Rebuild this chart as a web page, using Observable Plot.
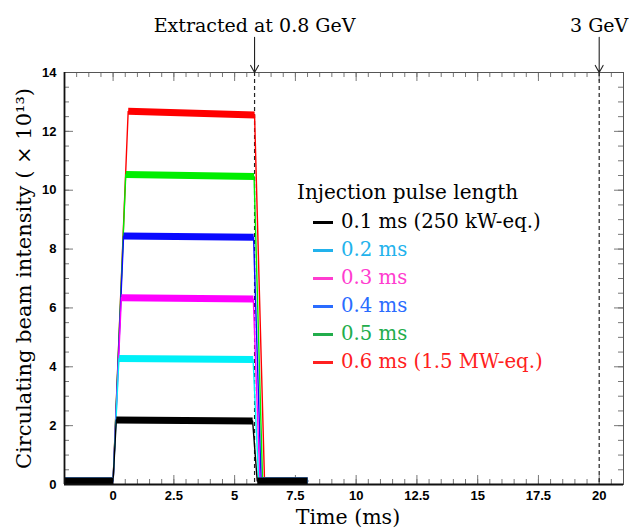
<!DOCTYPE html>
<html><head><meta charset="utf-8">
<script src="https://cdn.jsdelivr.net/npm/d3@7"></script>
<script src="https://cdn.jsdelivr.net/npm/@observablehq/plot@0.6"></script>
<style>
body{margin:0;background:#fff}
#wrap{position:relative;width:632px;height:530px}
#legend{position:absolute;left:297px;top:177px;font-family:"DejaVu Serif",serif;color:#000}
#legend .title{font-size:20px;line-height:31px;height:31px;white-space:nowrap}
#legend .row{font-size:19.7px;line-height:28px;height:28px;white-space:nowrap;padding-left:16px;display:flex;align-items:center}
#legend .sw{display:inline-block;width:20px;height:3px;margin-right:8px}
</style></head><body><div id="wrap"></div>
<script>
// ---- data ----
const seriesNames = ["0.1 ms (250 kW-eq.)", "0.2 ms", "0.3 ms", "0.4 ms", "0.5 ms", "0.6 ms (1.5 MW-eq.)"];
const traceColors = ["#000000", "#00f0f8", "#ff00ff", "#0a0aff", "#00ee00", "#ff0000"];
const legendColors = ["#000000", "#22b2ec", "#ff3ccf", "#2a6cff", "#22ad4c", "#ff2020"];
const riseEnd = [0.13, 0.24, 0.34, 0.43, 0.52, 0.62];          // ms, end of injection ramp
const plateauStart = [2.19, 4.28, 6.35, 8.44, 10.53, 12.68];   // ×10^13 at start of plateau
const plateauEnd = [2.16, 4.25, 6.30, 8.40, 10.47, 12.56];     // ×10^13 at extraction
const fallStart = [5.74, 5.76, 5.77, 5.78, 5.80, 5.82];        // ms
const fallEnd = [5.93, 5.99, 6.04, 6.09, 6.15, 6.23];          // ms
const baseline = 0.12;
const tFirst = -2, tInject = 0, tLast = 8;

const annotations = [{t: 5.82, label: "Extracted at 0.8 GeV"}, {t: 20, label: "3 GeV"}];

const xDomain = [-2, 21];
const yDomain = [0, 14];
const xLabelTicks = [0, 2.5, 5, 7.5, 10, 12.5, 15, 17.5, 20];
const xMinorTicks = d3.range(-2, 21.01, 0.5);
const yLabelTicks = [0, 2, 4, 6, 8, 10, 12, 14];
const yMinorTicks = d3.range(0, 14.01, 0.5);

// ---- build tables ----
const points = [];   // full traces (thin)
const bands = [];    // noisy flat parts (thick)
seriesNames.forEach((name, i) => {
  const pts = [
    [tFirst, baseline, "pre"], [tInject, baseline, "pre"],
    [riseEnd[i], plateauStart[i], "plat"], [fallStart[i], plateauEnd[i], "plat"],
    [fallEnd[i], baseline, "post"], [tLast, baseline, "post"]
  ];
  pts.forEach(([t, v, seg]) => {
    points.push({s: i, t, v});
    bands.push({s: i, t, v, seg: i + "-" + seg});
  });
});

const W = 632, H = 530;
const mt = 72, mb = 46, ml = 64, mr = 9;
const innerW = W - ml - mr, innerH = H - mt - mb;
const serif = "'DejaVu Serif', serif";
const sans = "'Liberation Sans', Arial, sans-serif";
const order = d3.range(seriesNames.length).reverse(); // draw black last

const marks = [
  // ticks (inward)
  Plot.ruleX(xMinorTicks, {stroke: "#777", insetTop: innerH - 5}),
  Plot.ruleX(xLabelTicks, {stroke: "#777", insetTop: innerH - 9}),
  Plot.ruleX(xMinorTicks, {stroke: "#777", insetBottom: innerH - 5}),
  Plot.ruleX(xLabelTicks, {stroke: "#777", insetBottom: innerH - 9}),
  Plot.ruleY(yMinorTicks, {stroke: "#777", insetRight: innerW - 5}),
  Plot.ruleY(yLabelTicks, {stroke: "#777", insetRight: innerW - 9}),
  Plot.ruleY(yMinorTicks, {stroke: "#777", insetLeft: innerW - 5}),
  Plot.ruleY(yLabelTicks, {stroke: "#777", insetLeft: innerW - 9}),
  // dashed markers
  Plot.ruleX(annotations, {x: "t", stroke: "#222", strokeWidth: 1.2, strokeDasharray: "4,3"}),
  // traces
  ...order.map(i => Plot.line(points.filter(d => d.s === i), {x: "t", y: "v", stroke: traceColors[i], strokeWidth: 1.4, clip: true})),
  ...order.map(i => Plot.line(bands.filter(d => d.s === i), {x: "t", y: "v", z: "seg", stroke: traceColors[i], strokeWidth: 7, strokeLinecap: "butt", clip: true})),
  // frame
  Plot.frame({stroke: "#555", strokeWidth: 1}),
  Plot.ruleY([yDomain[0]], {stroke: "#111", strokeWidth: 1.8}),
  Plot.ruleX([xDomain[0]], {stroke: "#111", strokeWidth: 1.8}),
  // axes labels
  Plot.axisX(xLabelTicks, {tickSize: 0, tickPadding: 6, fontSize: 13, fontWeight: "bold", fontFamily: sans, tickFormat: d => String(d), label: null}),
  Plot.axisY(yLabelTicks, {tickSize: 0, tickPadding: 8, fontSize: 13, fontWeight: "bold", fontFamily: sans, tickFormat: d => String(d), label: null}),
  Plot.text(["Time (ms)"], {frameAnchor: "bottom", lineAnchor: "middle", textAnchor: "middle", dx: 4, dy: 33, fontSize: 20.5, fontFamily: serif, fill: "#000"}),
  Plot.text(["Circulating beam intensity ( × 10¹³)"], {frameAnchor: "left", textAnchor: "middle", lineAnchor: "middle", dx: -40, rotate: -90, fontSize: 21, fontFamily: serif, fill: "#000"}),
  // annotations above the frame
  Plot.arrow(annotations, {x1: "t", x2: "t", y1: () => yDomain[1] + 1.2, y2: () => yDomain[1], stroke: "#222", strokeWidth: 1.1, headLength: 11, headAngle: 58}),
  Plot.text(annotations, {x: "t", text: "label", frameAnchor: "top", lineAnchor: "middle", dy: -47, fontSize: 19, fontFamily: serif, fill: "#000"})
];

const chart = Plot.plot({
  width: W, height: H,
  marginTop: mt, marginBottom: mb, marginLeft: ml, marginRight: mr,
  x: {domain: xDomain, axis: null},
  y: {domain: yDomain, axis: null},
  style: {background: "#fff", overflow: "visible"},
  marks
});
const wrap = document.getElementById("wrap");
wrap.appendChild(chart);

// legend
const lg = document.createElement("div");
lg.id = "legend";
const title = document.createElement("div");
title.className = "title";
title.textContent = "Injection pulse length";
lg.appendChild(title);
seriesNames.forEach((name, i) => {
  const r = document.createElement("div");
  r.className = "row";
  r.style.color = legendColors[i];
  const sw = document.createElement("span");
  sw.className = "sw";
  sw.style.background = legendColors[i];
  r.appendChild(sw);
  r.appendChild(document.createTextNode(name));
  lg.appendChild(r);
});
wrap.appendChild(lg);
</script></body></html>
